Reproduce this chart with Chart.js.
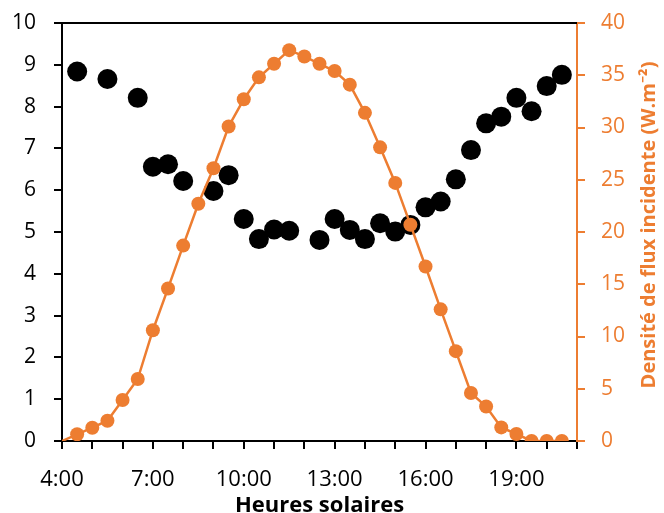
<!DOCTYPE html>
<html>
<head>
<meta charset="utf-8">
<script src="https://cdn.jsdelivr.net/npm/chart.js@4/dist/chart.umd.min.js"></script>
<style>
html,body{margin:0;padding:0;background:#fff;}
#wrap{width:664px;height:513px;position:relative;}
</style>
</head>
<body>
<div id="wrap"><canvas id="c" width="664" height="513"></canvas></div>
<script>
// ---- data ----
const fluxTimes = ["4:00","4:30","5:00","5:30","6:00","6:30","7:00","7:30","8:00","8:30","9:00","9:30","10:00","10:30","11:00","11:30","12:00","12:30","13:00","13:30","14:00","14:30","15:00","15:30","16:00","16:30","17:00","17:30","18:00","18:30","19:00","19:30","20:00","20:30"];
const fluxValues = [0,0.64,1.27,1.94,3.92,5.93,10.6,14.6,18.7,22.7,26.1,30.1,32.7,34.8,36.1,37.4,36.8,36.1,35.4,34.1,31.4,28.1,24.7,20.7,16.7,12.6,8.6,4.6,3.3,1.3,0.67,0,0,0];
const blackTimes = ["4:30","5:30","6:30","7:00","7:30","8:00","9:00","9:30","10:00","10:30","11:00","11:30","12:30","13:00","13:30","14:00","14:30","15:00","15:30","16:00","16:30","17:00","17:30","18:00","18:30","19:00","19:30","20:00","20:30"];
const blackValues = [8.84,8.66,8.21,6.56,6.62,6.22,5.98,6.36,5.31,4.83,5.06,5.03,4.81,5.31,5.05,4.83,5.21,5.01,5.17,5.59,5.73,6.26,6.96,7.60,7.76,8.21,7.89,8.49,8.76];
const xTickLabels = ["4:00","7:00","10:00","13:00","16:00","19:00"];
const xAxisTitle = "Heures solaires";
const rightAxisTitle = "Densité de flux incidente (W.m\u207B\u00B2)";

const ORANGE = "#ED7D31";
const FONT = "'Open Sans', 'Noto Sans', sans-serif";

function toHours(t){ const [h,m] = t.split(":").map(Number); return h + m/60; }
const fluxPts = fluxTimes.map((t,i)=>({x:toHours(t), y:fluxValues[i]}));
const blackPts = blackTimes.map((t,i)=>({x:toHours(t), y:blackValues[i]}));

const framePlugin = {
  id:'frame',
  afterDraw(chart){
    const {ctx, chartArea:a} = chart;
    ctx.save();
    ctx.strokeStyle = '#000';
    ctx.lineWidth = 2;
    ctx.beginPath();
    ctx.moveTo(a.left-1, a.top);
    ctx.lineTo(a.right, a.top);
    ctx.stroke();
    // right axis title (reads bottom to top)
    ctx.translate(a.right + 72, (a.top + a.bottom)/2 - 7);
    ctx.rotate(-Math.PI/2);
    ctx.fillStyle = ORANGE;
    ctx.font = "bold 20px " + FONT;
    ctx.textAlign = 'center';
    ctx.textBaseline = 'middle';
    ctx.fillText(rightAxisTitle, 0, 0);
    ctx.restore();
  }
};

function fixV(width){
  return s => { s.width = width; s.paddingTop = 0; s.paddingBottom = 0; };
}

new Chart(document.getElementById('c'), {
  type: 'scatter',
  data: {
    datasets: [
      {
        label: 'flux',
        data: fluxPts,
        yAxisID: 'y2',
        showLine: true,
        borderColor: ORANGE,
        backgroundColor: ORANGE,
        borderWidth: 2.5,
        pointRadius: ctx => ctx.dataIndex === 0 ? 0 : 7,
        pointBorderWidth: 0,
        pointHoverRadius: 7,
        order: 0
      },
      {
        label: 'black',
        data: blackPts,
        yAxisID: 'y',
        showLine: false,
        borderColor: '#000',
        backgroundColor: '#000',
        pointRadius: 10,
        pointBorderWidth: 0,
        order: 1
      }
    ]
  },
  options: {
    responsive: false,
    animation: false,
    devicePixelRatio: 1,
    layout: { padding: { top: 23, left: 0, right: 0, bottom: 0 } },
    plugins: { legend: { display: false }, tooltip: { enabled: false } },
    scales: {
      x: {
        type: 'linear',
        position: 'bottom',
        min: 4, max: 21,
        afterFit(s){ s.height = 72; s.paddingLeft = 0; s.paddingRight = 0; },
        border: { display: true, color: '#000', width: 2 },
        grid: { display: true, drawOnChartArea: false, drawTicks: true, tickLength: 8, color: '#000', lineWidth: 2 },
        ticks: {
          stepSize: 1, autoSkip: false, maxRotation: 0, includeBounds: false,
          color: '#000', padding: 18,
          font: { family: FONT, size: 22 },
          callback: v => { const lbl = Math.round(v) + ":00"; return xTickLabels.includes(lbl) ? lbl : ''; }
        },
        title: {
          display: true, text: xAxisTitle, color: '#000',
          font: { family: FONT, size: 22, weight: 'bold', lineHeight: 0.5 },
          padding: { top: 0, bottom: 2 }
        }
      },
      y: {
        position: 'left',
        min: 0, max: 10,
        afterFit: fixV(62),
        border: { display: true, color: '#000', width: 2 },
        grid: { display: true, drawOnChartArea: false, tickLength: 8, color: '#000', lineWidth: 2 },
        ticks: { stepSize: 1, color: '#000', padding: 18, font: { family: FONT, size: 21 } }
      },
      y2: {
        position: 'right',
        min: 0, max: 40,
        afterFit: fixV(87),
        border: { display: true, color: ORANGE, width: 2 },
        grid: { display: true, drawOnChartArea: false, tickLength: 8, color: ORANGE, lineWidth: 2 },
        ticks: { stepSize: 5, color: ORANGE, padding: 16, font: { family: FONT, size: 21 } }
      }
    }
  },
  plugins: [framePlugin]
});
</script>
</body>
</html>
